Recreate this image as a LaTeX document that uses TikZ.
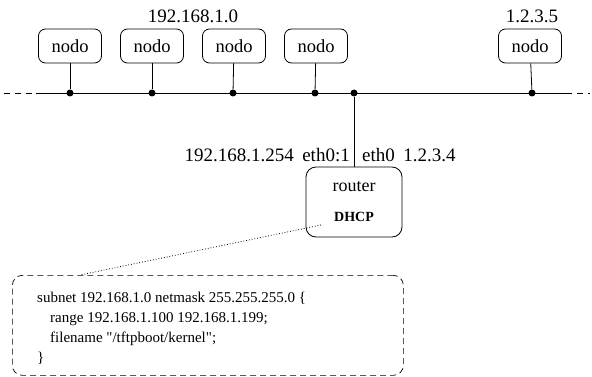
\documentclass[tikz,border=0pt]{standalone}
\usepackage{fontspec}
\setmainfont{Liberation Serif}
% plain font without TeX quote mapping, for the configuration listing
\font\cfgfont="Liberation Serif" at 15pt
\begin{document}
\begin{tikzpicture}[x=1pt,y=-1pt,
  wire/.style={line width=0.8pt},
  host/.style={draw, line width=0.8pt, rounded corners=7pt,
    minimum width=63pt, minimum height=34pt, inner sep=0pt,
    font=\fontsize{18.5}{20}\selectfont},
  gatebox/.style={draw, line width=0.8pt, rounded corners=10pt,
    minimum width=96pt, minimum height=70pt, inner sep=0pt},
  junction/.style={circle, fill, inner sep=0pt, minimum size=7pt},
  lbl/.style={inner sep=0pt, font=\fontsize{19}{21}\selectfont},
  cfgbox/.style={draw, line width=0.7pt, dash pattern=on 6pt off 4pt,
    rounded corners=10pt, minimum width=391pt, minimum height=100pt,
    inner sep=0pt, anchor=north west},
  cfgline/.style={inner sep=0pt, anchor=base west, font=\cfgfont}]
\useasboundingbox (0,0) rectangle (592,377);

% hosts on the LAN
\node[host] (n1) at (70,46) {nodo};
\node[host] (n2) at (152,46) {nodo};
\node[host] (n3) at (234,46) {nodo};
\node[host] (n4) at (316,46) {nodo};
\node[host] (n5) at (530,46) {nodo};

\node[lbl] (net) at (193,16) {192.168.1.0};
\node[lbl] (ext) at (532,16) {1.2.3.5};

% bus
\coordinate (bl) at (36,93);
\coordinate (br) at (566,93);
\coordinate (blend) at (4,93);
\coordinate (brend) at (590,93);
\draw[wire] (bl) -- (br);
\draw[wire, dash pattern=on 6pt off 5pt] (blend) -- (bl);
\draw[wire, dash pattern=on 6pt off 5pt] (br) -- (brend);

\node[junction] (j1) at (70,93) {};
\node[junction] (j2) at (152,93) {};
\node[junction] (j3) at (233,93) {};
\node[junction] (j4) at (315,93) {};
\node[junction] (j5) at (532,93) {};
\node[junction] (j6) at (354,93) {};

\draw[wire] (n1) -- (j1);
\draw[wire] (n2) -- (j2);
\draw[wire] (n3) -- (j3);
\draw[wire] (n4) -- (j4);
\draw[wire] (n5) -- (j5);

% router
\node[gatebox] (r) at (354,202) {};
\node[inner sep=0pt, font=\fontsize{18}{20}\selectfont] (rt) at (354,187) {router};
\node[inner sep=0pt, font=\fontsize{14}{16}\selectfont\bfseries] (dh) at (354,217) {DHCP};
\draw[wire] (j6) -- (r.north);

\node[lbl, anchor=east] (ifint) at (350,155) {192.168.1.254\hspace{0.45em}eth0:1};
\node[lbl, anchor=west] (ifext) at (362,155) {eth0\hspace{0.45em}1.2.3.4};

% dhcpd configuration
\node[cfgbox] (cfg) at (12,275) {};
\node[cfgline] (c1) at (37,302) {subnet 192.168.1.0 netmask 255.255.255.0 \char123};
\node[cfgline] (c2) at (50,322) {range 192.168.1.100 192.168.1.199;};
\node[cfgline] (c3) at (50,342) {filename "/tftpboot/kernel";};
\node[cfgline] (c4) at (37,362) {\char125};

\coordinate (dfrom) at (321,225);
\coordinate (dto) at (80,275);
\draw[line width=0.8pt, dotted] (dfrom) -- (dto);
\end{tikzpicture}
\end{document}
